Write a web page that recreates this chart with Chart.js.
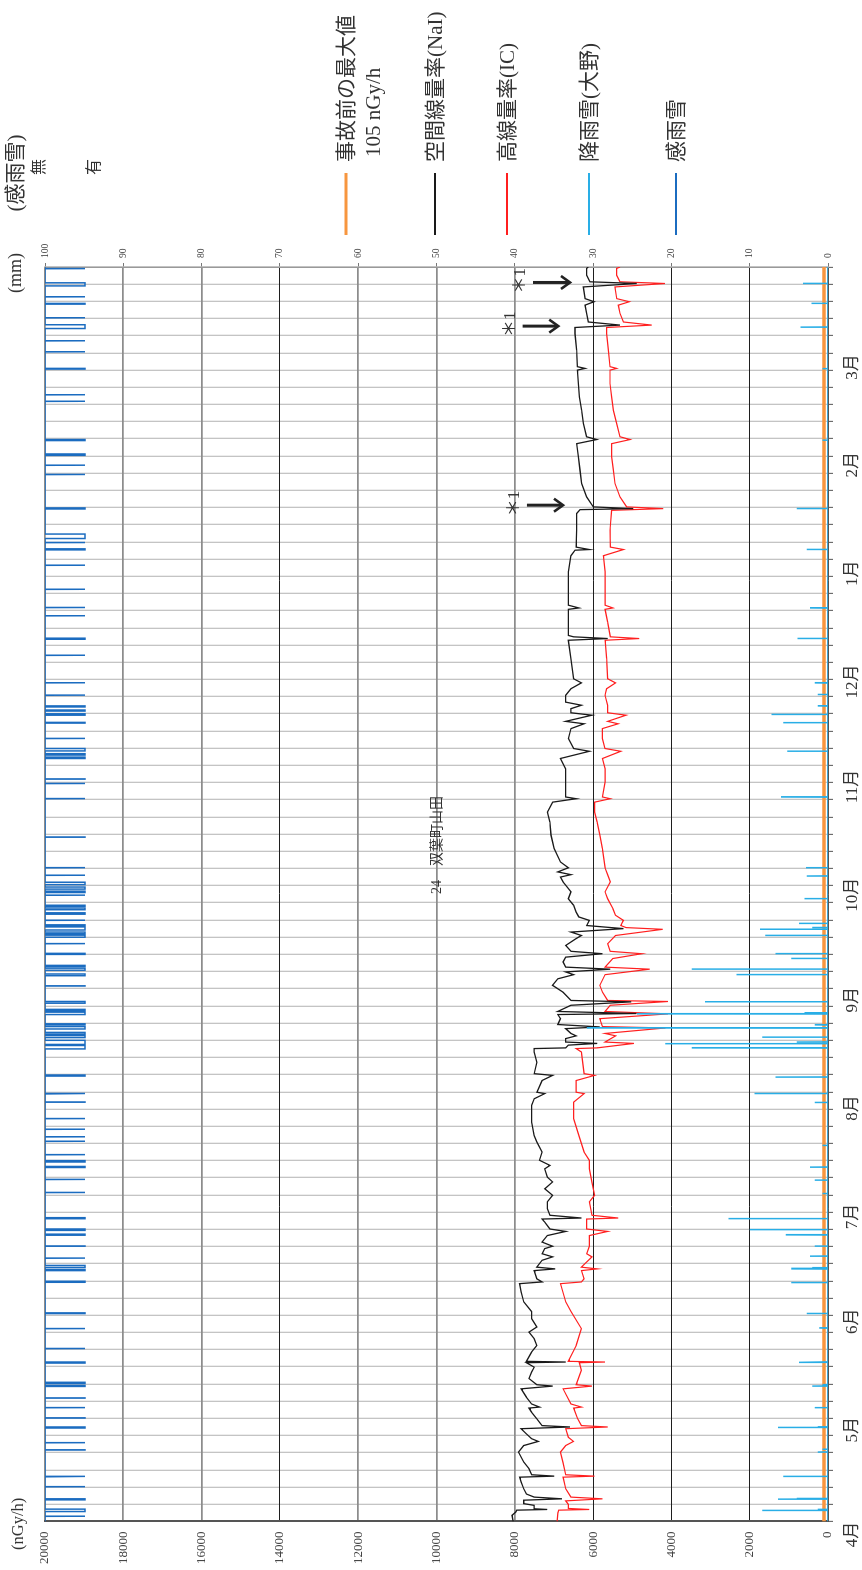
<!DOCTYPE html>
<html lang="ja">
<head>
<meta charset="utf-8">
<title>24 双葉町山田</title>
<script src="https://cdn.jsdelivr.net/npm/chart.js@4.4.1/dist/chart.umd.min.js"></script>
<style>
  html, body { margin: 0; padding: 0; background: #fff; overflow: hidden; }
  /* the chart is laid out landscape and turned a quarter turn to portrait */
  #frame {
    position: absolute; left: 0; top: 0;
    width: 1570px; height: 862px;
    transform-origin: 0 0;
    transform: translate(0, 1570px) rotate(-90deg);
  }
  canvas { display: block; }
</style>
</head>
<body>
<div id="frame"><canvas id="chart" width="1570" height="862"></canvas></div>
<script>
// ---- data (x = days since 1 April) ----
const monthLabels = ['4月','5月','6月','7月','8月','9月','10月','11月','12月','1月','2月','3月'];
const monthStartDays = [0, 30, 61, 91, 122, 153, 183, 214, 244, 275, 306, 334];
const preAccidentMax = 105; // nGy/h

// 空間線量率 (NaI), nGy/h
const naiSeries = [
  [0,8040],[1.8,8070],[2.8,7973],[3.3,7950],[3.5,7169],[3.7,7504],[4.7,7504],[5.2,7772],[6.2,7772],[6.6,6794],
  [7.1,7504],[8.0,7705],[9.5,7772],[11.5,7839],[12.9,7879],[13.2,6995],[13.6,7571],[15.4,7638],[17.3,7772],
  [20.2,7906],[22.1,7772],[23.3,7400],[24.1,7571],[25.5,7705],[27.0,7839],[27.5,6593],[27.9,7303],[29.9,7437],
  [31.8,7571],[33.0,7638],[33.3,7370],[34.2,7571],[36.2,7705],[38.6,7839],[39.4,7035],[39.8,7437],[41.6,7638],
  [43.5,7571],[44.9,7504],[46.2,7705],[46.4,6700],[46.6,7705],[49.3,7571],[51.2,7437],[53.2,7504],[55.1,7638],
  [56.6,7437],[59.0,7571],[61.1,7571],[63.9,7772],[66.8,7839],[69.2,7879],[69.7,7303],[70.6,7437],[73.0,7504],
  [73.5,6968],[74.0,7437],[76.0,7303],[77.0,7035],[77.9,7303],[79.4,7236],[80.1,7035],[81.3,7303],[83.2,7169],
  [84.4,6700],[85.1,7102],[87.1,7236],[88.0,7303],[88.3,6298],[89.1,7102],[91.0,7169],[93.0,7169],[94.9,7035],
  [96.8,7236],[98.8,7035],[100.2,7169],[102.6,7236],[103.6,7102],[105.1,7370],[107.5,7303],[110.4,7437],
  [112.3,7504],[116.2,7571],[119.1,7571],[121.1,7571],[123.0,7504],[124.5,7236],[124.9,7437],[128.3,7303],
  [129.8,7035],[130.3,7504],[133.6,7437],[136.6,7504],[137.6,7504],[137.8,6700],[138.6,6633],[139.1,5896],
  [139.5,6700],[140.5,6700],[141.3,6432],[142.0,6566],[143.4,6700],[143.9,5829],[144.6,6901],[146.3,6834],
  [147.5,6901],[147.8,4891],[148.4,6901],[150.2,6566],[151.2,5025],[151.6,6566],[154.0,6767],[156.0,7035],
  [157.9,6901],[159.1,6499],[159.9,6700],[160.7,5561],[161.3,6700],[162.8,6767],[164.2,6700],[165.2,5762],
  [165.9,6566],[167.6,6700],[169.6,6432],[170.5,6298],[171.5,6566],[172.5,5226],[173.4,6164],[174.9,6097],
  [175.9,6365],[177.3,6432],[179.3,6499],[181.2,6633],[183.2,6566],[186.1,6767],[187.5,6834],[188.2,6566],
  [189.0,6901],[190.2,6633],[191.9,6834],[195.8,6995],[199.7,7075],[203.5,7102],[206.4,7169],[209.3,7035],
  [210.3,6432],[210.8,6700],[215.2,6700],[219.0,6700],[222.0,6834],[224.1,6097],[224.9,6499],[227.8,6633],
  [230.7,6566],[232.1,6231],[232.8,6700],[234.6,6030],[235.3,6566],[236.5,6566],[237.5,6298],[238.4,6700],
  [240.4,6700],[242.3,6566],[244.0,6298],[245.2,6499],[251.1,6566],[256.4,6633],[256.9,5628],[257.4,6500],
  [257.8,6633],[261.7,6633],[265.4,6633],[265.8,6365],[266.6,6633],[271.4,6633],[276.3,6633],[281.0,6566],
  [282.6,6462],[282.8,6097],[283.5,6432],[288.4,6420],[293.3,6420],[294.4,6335],[294.7,4972],[295.2,5994],
  [298.1,6165],[302.0,6292],[305.9,6335],[309.8,6377],[313.6,6420],[314.8,5909],[315.6,6165],[319.5,6250],
  [323.3,6292],[327.2,6352],[331.1,6377],[335.0,6403],[335.5,6207],[336.0,6403],[340.8,6420],[345.6,6462],
  [347.4,6462],[348.1,5313],[349.0,6122],[351.5,6165],[353.9,6207],[354.9,5977],[355.8,6207],[359.2,6250],
  [360.2,4887],[360.7,6080],[362.6,6165],[364.6,6165],[365,6122]
];

// 高線量率 (IC), nGy/h
const icSeries = [
  [0,6920],[2.5,6900],[3.3,6880],[3.5,6097],[3.8,6633],[5.0,6633],[6.0,6700],[6.6,5762],[7.1,6566],[9.5,6700],
  [12.9,6767],[13.2,5963],[13.6,6700],[17.0,6767],[20.2,6834],[22.1,6700],[23.3,6500],[24.5,6633],[27.0,6700],
  [27.5,5628],[27.9,6298],[30.0,6400],[33.0,6499],[33.3,6298],[34.2,6566],[38.6,6767],[39.4,6030],[39.8,6432],
  [44.0,6298],[46.2,6350],[46.4,5695],[46.6,6633],[51.2,6432],[56.1,6298],[61.1,6566],[63.9,6700],[69.2,6834],
  [69.7,6298],[70.6,6231],[73.0,6298],[73.5,5896],[74.0,6298],[77.0,6030],[77.9,6164],[80.1,6097],[83.2,6097],
  [84.4,5628],[85.1,6164],[88.0,6164],[88.3,5360],[89.1,6030],[93.0,6097],[94.9,5963],[98.8,6030],[102.6,6097],
  [105.1,6097],[107.5,6231],[112.3,6365],[117.2,6499],[122.0,6499],[124.5,6231],[124.9,6432],[128.3,6432],
  [129.8,5963],[130.3,6231],[136.6,6298],[137.6,6432],[137.8,5896],[139.1,4958],[139.5,5695],[141.3,5427],
  [142.0,5695],[143.6,4154],[144.0,5762],[146.3,5829],[147.7,4087],[148.4,5695],[150.2,5561],[151.3,4087],
  [151.6,5628],[154.0,5762],[156.0,5829],[159.1,5695],[160.7,4556],[161.3,5695],[163.8,5494],[165.2,4757],
  [165.9,5561],[168.1,5628],[170.5,5427],[172.3,4221],[172.8,5159],[173.4,5293],[174.9,5226],[176.4,5427],
  [178.3,5494],[181.2,5628],[183.2,5695],[186.1,5561],[188.2,5628],[190.2,5695],[195.8,5762],[199.7,5829],
  [203.5,5896],[206.4,5963],[209.3,5963],[210.3,5561],[210.8,5762],[215.2,5695],[219.0,5695],[222.0,5762],
  [224.1,5293],[224.9,5695],[227.8,5762],[230.7,5762],[232.1,5360],[232.8,5628],[234.6,5159],[235.3,5628],
  [237.5,5628],[240.4,5695],[242.3,5655],[244.0,5427],[245.2,5628],[251.1,5655],[256.4,5695],[256.9,4824],
  [257.4,5561],[261.7,5628],[265.4,5695],[265.8,5494],[266.6,5695],[271.4,5695],[276.3,5695],[281.0,5735],
  [282.8,5226],[283.5,5561],[288.4,5568],[294.2,5526],[294.7,4206],[295.2,5143],[298.1,5313],[302.0,5441],
  [305.9,5483],[309.8,5526],[313.6,5526],[314.8,5057],[315.6,5313],[319.5,5398],[323.3,5483],[327.2,5526],
  [331.1,5568],[335.0,5568],[335.5,5398],[336.0,5568],[340.8,5611],[345.6,5654],[347.4,5654],[348.1,4504],
  [349.0,5228],[351.5,5313],[353.9,5356],[354.9,5074],[355.8,5398],[359.2,5441],[360.2,4163],[360.7,5313],
  [362.6,5398],[364.6,5398],[365,5313]
];

// 降雨雪 (大野), hourly peaks in mm
const rainPeaks = [
  [3.2,8.4],[3.5,1.3],[6.5,6.4],[6.7,4.0],[13.1,5.7],[20.2,1.3],[21.0,0.7],[27.3,6.4],[27.5,1.3],[33.1,1.7],
  [39.4,2.0],[39.8,0.7],[46.2,2.3],[46.4,3.7],[56.3,1.1],[60.5,2.7],[69.5,4.7],[73.5,4.7],[73.8,2.0],[77.2,2.3],
  [80.1,1.7],[83.4,5.4],[84.9,10.0],[88.1,12.7],[95.4,0.7],[99.3,1.7],[103.1,2.3],[109.4,0.7],[121.9,1.7],
  [124.5,9.4],[129.3,6.7],[137.8,17.4],[139.0,20.8],[139.5,4.0],[140.9,8.4],[143.6,30.8],[144.5,1.7],
  [147.7,24.4],[148.0,3.0],[151.2,15.7],[159.1,11.7],[160.7,17.4],[163.8,4.7],[165.2,6.7],[170.5,8.0],
  [172.3,8.7],[172.8,2.0],[174.0,3.7],[181.2,3.0],[187.8,2.7],[190.2,2.8],[210.8,6.0],[224.1,5.2],[232.4,5.7],
  [234.8,7.2],[237.3,1.3],[240.6,1.3],[244.0,1.7],[256.9,3.9],[265.8,2.3],[282.8,2.7],[294.7,4.0],[314.6,0.7],
  [335.4,0.7],[347.5,3.5],[354.4,2.1],[360.2,3.2]
];

// 感雨雪: periods (start day, end day) with precipitation sensed
const senseSpans = [
  [1.5,1.56],[2.9,3.6],[6.3,6.6],[10.1,10.16],[13.0,13.2],[20.8,20.86],[22.9,22.96],[27.2,27.5],[30.1,30.16],
  [33.1,33.16],[35.9,35.96],[39.3,39.6],[40.2,40.5],[46.1,46.4],[50.3,50.36],[56.1,56.16],[60.5,60.7],[69.6,69.9],
  [73.0,73.3],[73.9,74.5],[76.6,76.66],[80.1,80.16],[83.3,83.6],[84.7,85.1],[88.1,88.4],[95.7,95.76],[99.5,99.56],
  [103.0,103.3],[104.6,105.0],[106.7,106.76],[110.6,110.66],[111.9,111.96],[114.1,114.16],[117.2,117.26],
  [122.0,122.06],[124.4,124.6],[129.6,129.9],[137.5,138.5],[138.8,140.0],[140.8,141.4],[141.8,142.3],[143.3,144.0],
  [144.5,144.8],[147.5,148.2],[148.6,149.0],[150.8,151.3],[155.8,155.86],[158.8,159.3],[160.4,161.0],[161.5,161.8],
  [165.0,165.3],[168.1,168.16],[170.0,170.6],[171.0,171.5],[172.1,173.0],[173.3,173.6],[174.9,174.96],[176.7,177.1],
  [178.0,178.5],[179.0,179.3],[182.2,182.26],[183.0,183.4],[184.0,184.6],[185.3,186.0],[188.0,188.06],[190.2,190.26],
  [199.1,199.16],[210.3,210.36],[214.7,214.76],[216.0,216.06],[222.0,222.4],[223.0,223.4],[224.2,224.9],
  [227.8,227.86],[232.3,232.5],[234.6,235.0],[235.8,236.1],[237.0,237.3],[240.4,240.46],[244.0,244.06],
  [252.0,252.06],[256.7,257.0],[263.5,263.56],[265.9,265.96],[271.2,271.26],[278.2,278.26],[282.7,283.0],
  [284.8,284.86],[286.0,287.3],[294.6,294.9],[304.6,304.66],[307.3,307.36],[310.2,310.6],[314.5,314.8],
  [325.9,325.96],[327.8,327.86],[335.3,335.5],[340.3,340.36],[343.5,343.56],[347.1,348.2],[350.2,350.26],
  [354.2,354.4],[356.3,356.36],[359.5,360.4],[364.5,364.56]
];

// ＊1 notes: [day, arrow tail value, arrow tip value]
const notes = [[295.7, 7690, 6770], [347.8, 7800, 6890], [360.5, 7535, 6590]];

// ---- build line points ----
const pts = s => s.map(([x, y]) => ({ x, y }));
function rainPoints() {
  const out = [{ x: 0, y: 0 }];
  rainPeaks.forEach(([d, mm]) => { out.push({ x: d - 0.05, y: 0 }, { x: d, y: mm }, { x: d + 0.05, y: 0 }); });
  out.push({ x: 365, y: 0 });
  return out;
}
function sensePoints() {
  const out = [{ x: 0, y: 0 }];
  senseSpans.forEach(([s, e]) => { out.push({ x: s, y: 0 }, { x: s, y: 1 }, { x: e, y: 1 }, { x: e, y: 0 }); });
  out.push({ x: 365, y: 0 });
  return out;
}

const SERIF = "'Liberation Serif', 'Noto Sans CJK JP', serif";
const COLORS = { pre: '#f7963f', nai: '#1a1a1a', ic: '#ff1f1f', rain: '#29aee6', sense: '#1b6cc0' };
const darkGrid = [2000, 4000, 6000, 14000];
const plainNumber = v => String(v);

const sideTexts = {
  id: 'sideTexts',
  afterDraw(chart) {
    const { ctx, chartArea: a, scales } = chart;
    ctx.save();
    ctx.fillStyle = '#333';
    ctx.textBaseline = 'middle';

    // axis titles
    ctx.textAlign = 'left';
    ctx.font = `16.5px ${SERIF}`;
    ctx.fillText('(nGy/h)', 20, 18.5);
    ctx.textAlign = 'center';
    ctx.font = `18px ${SERIF}`;
    ctx.fillText('(mm)', a.right - 6, 16);
    ctx.font = `21px ${SERIF}`;
    ctx.fillText('(感雨雪)', a.right + 94, 16);
    ctx.font = `16px ${SERIF}`;
    const ys = scales.ySense;
    ctx.fillText('無', a.right + 100, ys.getPixelForValue(0) - 5.5);
    ctx.fillText('有', a.right + 100, ys.getPixelForValue(1) + 9.5);

    // station title
    ctx.font = `14px ${SERIF}`;
    ctx.fillText('24　双葉町山田', 725, 437);

    // legend
    const rows = [346, 435, 507, 589, 676];
    ctx.textAlign = 'left';
    ctx.font = `21px ${SERIF}`;
    chart.data.datasets.forEach(ds => {
      const y = rows[ds.legendRow];
      ctx.strokeStyle = ds.borderColor;
      ctx.lineWidth = ds.legendRow === 0 ? 3 : 2.2;
      ctx.beginPath();
      ctx.moveTo(a.right + 32, y);
      ctx.lineTo(a.right + 94, y);
      ctx.stroke();
      const lines = ds.label.split('\n');
      lines.forEach((t, k) => ctx.fillText(t, a.right + 105 + (k ? 5 : 0), y + 1.5 + k * 26.5));
    });

    // ＊1 notes with arrows
    const xs = scales.x, yv = scales.y;
    notes.forEach(([d, vTop, vTip]) => {
      const x = xs.getPixelForValue(d);
      const y0 = yv.getPixelForValue(vTop), y1 = yv.getPixelForValue(vTip);
      ctx.fillStyle = '#333';
      ctx.font = `17px ${SERIF}`;
      ctx.textAlign = 'left';
      ctx.fillText('＊1', x - 11, y0 - 12);
      ctx.strokeStyle = '#222';
      ctx.lineWidth = 3;
      ctx.lineCap = 'butt';
      ctx.beginPath();
      ctx.moveTo(x, y0);
      ctx.lineTo(x, y1 - 2);
      ctx.stroke();
      ctx.lineWidth = 2.6;
      ctx.beginPath();
      ctx.moveTo(x - 6.5, y1 - 9);
      ctx.lineTo(x, y1);
      ctx.lineTo(x + 6.5, y1 - 9);
      ctx.stroke();
    });
    ctx.restore();
  }
};

new Chart(document.getElementById('chart'), {
  type: 'line',
  data: {
    datasets: [
      { label: '降雨雪(大野)', data: rainPoints(), yAxisID: 'yRain', borderColor: COLORS.rain, borderWidth: 1.5, legendRow: 3 },
      { label: '感雨雪', data: sensePoints(), yAxisID: 'ySense', borderColor: COLORS.sense, borderWidth: 1.5, legendRow: 4 },
      { label: '空間線量率(NaI)', data: pts(naiSeries), yAxisID: 'y', borderColor: COLORS.nai, borderWidth: 1.3, legendRow: 1 },
      { label: '高線量率(IC)', data: pts(icSeries), yAxisID: 'y', borderColor: COLORS.ic, borderWidth: 1.2, legendRow: 2 },
      { label: '事故前の最大値\n105 nGy/h', data: [{ x: 0, y: preAccidentMax }, { x: 365, y: preAccidentMax }], yAxisID: 'y', borderColor: COLORS.pre, borderWidth: 3.5, legendRow: 0 }
    ]
  },
  options: {
    responsive: false,
    animation: false,
    devicePixelRatio: 1,
    parsing: false,
    normalized: true,
    elements: { point: { radius: 0 }, line: { tension: 0, borderJoinStyle: 'miter' } },
    layout: { padding: { top: 45, left: 0, right: 227, bottom: 0 } },
    plugins: { legend: { display: false }, tooltip: { enabled: false } },
    scales: {
      x: {
        type: 'linear', position: 'bottom', weight: 0, min: 0, max: 365,
        afterBuildTicks: s => { s.ticks = []; for (let d = 0; d <= 365; d += 5) s.ticks.push({ value: d }); },
        afterFit: s => { s.height = 5; },
        ticks: { display: false, autoSkip: false },
        grid: { color: '#c4c4c4', lineWidth: 1.3, drawTicks: true, tickLength: 5, tickColor: '#555', tickWidth: 1 },
        border: { display: true, color: '#555', width: 1 }
      },
      xMonth: {
        type: 'linear', position: 'bottom', weight: 1, min: 3.72, max: 362.6,
        afterBuildTicks: s => { s.ticks = monthStartDays.map(v => ({ value: v })); },
        afterFit: s => { s.height = 29; },
        ticks: {
          autoSkip: false, maxRotation: 0, minRotation: 0, padding: 9, color: '#333',
          font: { family: SERIF, size: 17 },
          callback: (v, i) => monthLabels[i]
        },
        grid: { display: false, drawTicks: false },
        border: { display: false }
      },
      y: {
        position: 'left', min: 0, max: 20000,
        afterBuildTicks: s => { s.ticks = []; for (let v = 0; v <= 20000; v += 2000) s.ticks.push({ value: v }); },
        afterFit: s => { s.width = 48.5; },
        ticks: { padding: 10, color: '#444', font: { family: SERIF, size: 13 }, callback: plainNumber },
        grid: {
          drawTicks: false,
          color: c => darkGrid.includes(c.tick && c.tick.value) ? '#1e1e1e' : '#8c8c8c',
          lineWidth: c => darkGrid.includes(c.tick && c.tick.value) ? 1 : 1.7
        },
        border: { display: true, color: '#555', width: 2 }
      },
      yRain: {
        position: 'right', min: 0, max: 100,
        afterBuildTicks: s => { s.ticks = []; for (let v = 0; v <= 100; v += 10) s.ticks.push({ value: v }); },
        afterFit: s => { s.width = 40; },
        ticks: { padding: 5, color: '#444', font: { family: SERIF, size: 9.5 }, callback: plainNumber },
        grid: { drawOnChartArea: false, drawTicks: true, tickLength: 4, tickColor: '#777' },
        border: { display: true, color: '#999', width: 1.5 }
      },
      ySense: {
        display: false, min: 0, max: 19.575, reverse: true
      }
    }
  },
  plugins: [sideTexts]
});
</script>
</body>
</html>
